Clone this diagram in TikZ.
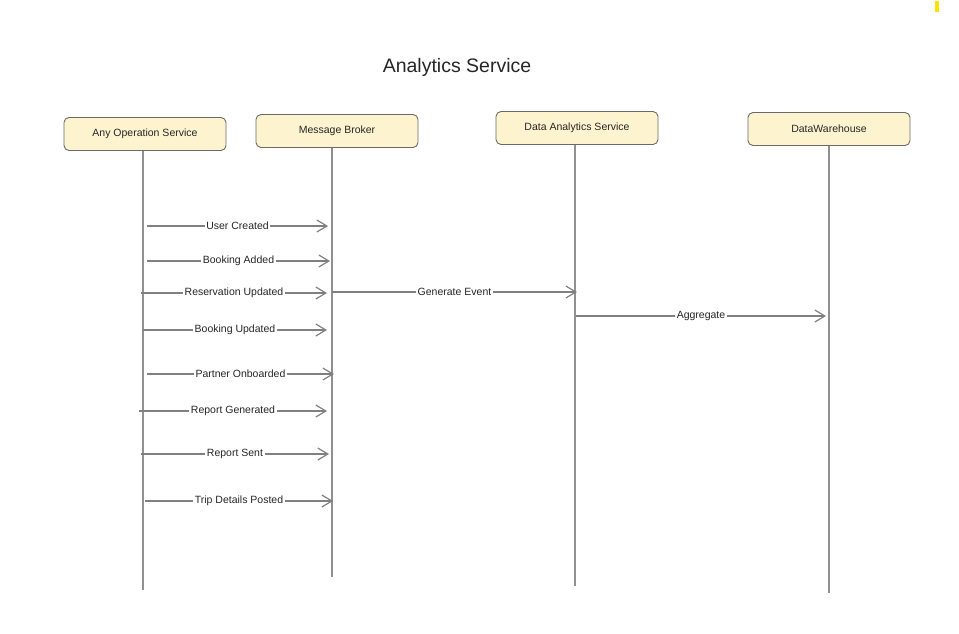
\documentclass[tikz,border=0pt]{standalone}
\usepackage{fontspec}
\setmainfont{Liberation Sans}
\usetikzlibrary{arrows.meta}
\definecolor{boxfill}{HTML}{FDF3CF}
\definecolor{boxline}{HTML}{6A6A6A}
\definecolor{lifeline}{HTML}{909090}
\definecolor{msgline}{HTML}{808080}
\definecolor{markyellow}{HTML}{FFE100}
\begin{document}
\begin{tikzpicture}[x=1pt,y=-1pt,
  actor/.style={draw=boxline, fill=boxfill, rounded corners=5pt, line width=0.9pt,
    minimum width=162pt, minimum height=33pt, font=\fontsize{10.5}{12}\selectfont, text=black!85},
  life/.style={draw=lifeline, line width=1.2pt},
  msg/.style={draw=msgline, line width=1.2pt, -{Straight Barb[length=10pt,width=12pt,line width=1.2pt]}},
  lbl/.style={fill=white, inner sep=1.5pt, font=\fontsize{10.5}{12}\selectfont, text=black!85}]
\useasboundingbox (0,0) rectangle (959,633);
\fill[markyellow] (935,1) rectangle (939,12);

\node[font=\fontsize{19.5}{22}\selectfont, text=black!85] (title) at (457,67) {Analytics Service};

\node[actor] (aos) at (145,134) {Any Operation Service};
\node[actor] (mb)  at (337,131) {Message Broker};
\node[actor] (das) at (577,128) {Data Analytics Service};
\node[actor] (dw)  at (829,129) {DataWarehouse};

\coordinate (aosEnd) at (143,590);
\coordinate (mbEnd)  at (332,577);
\coordinate (dasEnd) at (575,586);
\coordinate (dwEnd)  at (829,593);
\draw[life] (aos.south -| aosEnd) -- (aosEnd);
\draw[life] (mb.south -| mbEnd) -- (mbEnd);
\draw[life] (das.south -| dasEnd) -- (dasEnd);
\draw[life] (dw.south -| dwEnd) -- (dwEnd);

% messages from Any Operation Service to Message Broker
\foreach \n/\y/\xa/\xb/\t in {
  1/226/147/328/User Created,
  2/261/147/330/Booking Added,
  3/293/141/327/Reservation Updated,
  4/330/143/327/Booking Updated,
  5/374/147/334/Partner Onboarded,
  6/411/139/327/Report Generated,
  7/454/141/329/Report Sent,
  8/501/145/333/Trip Details Posted}{
  \coordinate (s\n) at (\xa,\y);
  \coordinate (e\n) at (\xb,\y);
  \draw[msg] (s\n) -- node[lbl] {\t} (e\n);
}

\coordinate (sGen) at (332,292);
\coordinate (eGen) at (577,292);
\draw[msg] (sGen) -- node[lbl] {Generate Event} (eGen);

\coordinate (sAgg) at (576,316);
\coordinate (eAgg) at (826,316);
\draw[msg] (sAgg) -- node[lbl] {Aggregate} (eAgg);
\end{tikzpicture}
\end{document}
